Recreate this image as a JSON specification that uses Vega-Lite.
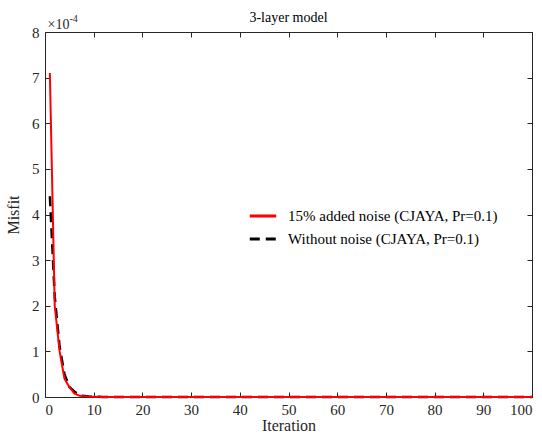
{
  "$schema": "https://vega.github.io/schema/vega-lite/v6.json",
  "width": 487,
  "height": 365,
  "autosize": {"type": "none"},
  "padding": {"left": 45, "top": 32, "right": 10, "bottom": 37},
  "background": "white",
  "title": {"text": "3-layer model", "font": "Liberation Serif", "fontSize": 14, "fontWeight": "normal", "color": "#000000", "offset": -12, "anchor": "middle"},
  "config": {
    "view": {"stroke": null},
    "font": "Liberation Serif",
    "axis": {
      "domainColor": "#262626", "tickColor": "#262626", "labelColor": "#262626", "titleColor": "#262626",
      "labelFont": "Liberation Serif", "titleFont": "Liberation Serif",
      "labelFontSize": 15, "titleFontSize": 16, "titleFontWeight": "normal",
      "tickSize": -5, "grid": false, "domainWidth": 1, "tickWidth": 1
    },
    "legend": {"labelFont": "Liberation Serif", "labelFontSize": 15, "labelColor": "#000000"}
  },
  "data": {"values": [
    {"iteration": 1, "series": "noise", "misfit": 0.00071},
    {"iteration": 2, "series": "noise", "misfit": 0.00020},
    {"iteration": 3, "series": "noise", "misfit": 0.000100},
    {"iteration": 4, "series": "noise", "misfit": 0.000040},
    {"iteration": 5, "series": "noise", "misfit": 0.000022},
    {"iteration": 6, "series": "noise", "misfit": 0.000008},
    {"iteration": 7, "series": "noise", "misfit": 0.000003},
    {"iteration": 8, "series": "noise", "misfit": 0.0000015},
    {"iteration": 9, "series": "noise", "misfit": 0.0000008},
    {"iteration": 10, "series": "noise", "misfit": 0.0000004},
    {"iteration": 12, "series": "noise", "misfit": 0.0000002},
    {"iteration": 15, "series": "noise", "misfit": 0.0000001},
    {"iteration": 20, "series": "noise", "misfit": 0.0},
    {"iteration": 30, "series": "noise", "misfit": 0.0},
    {"iteration": 40, "series": "noise", "misfit": 0.0},
    {"iteration": 50, "series": "noise", "misfit": 0.0},
    {"iteration": 60, "series": "noise", "misfit": 0.0},
    {"iteration": 70, "series": "noise", "misfit": 0.0},
    {"iteration": 80, "series": "noise", "misfit": 0.0},
    {"iteration": 90, "series": "noise", "misfit": 0.0},
    {"iteration": 100, "series": "noise", "misfit": 0.0},
    {"iteration": 1, "series": "clean", "misfit": 0.00044},
    {"iteration": 2, "series": "clean", "misfit": 0.00022},
    {"iteration": 3, "series": "clean", "misfit": 0.000110},
    {"iteration": 4, "series": "clean", "misfit": 0.000050},
    {"iteration": 5, "series": "clean", "misfit": 0.000022},
    {"iteration": 6, "series": "clean", "misfit": 0.000012},
    {"iteration": 7, "series": "clean", "misfit": 0.000005},
    {"iteration": 8, "series": "clean", "misfit": 0.000002},
    {"iteration": 9, "series": "clean", "misfit": 0.000001},
    {"iteration": 10, "series": "clean", "misfit": 0.0000005},
    {"iteration": 12, "series": "clean", "misfit": 0.0000002},
    {"iteration": 15, "series": "clean", "misfit": 0.0000001},
    {"iteration": 20, "series": "clean", "misfit": 0.0},
    {"iteration": 30, "series": "clean", "misfit": 0.0},
    {"iteration": 40, "series": "clean", "misfit": 0.0},
    {"iteration": 50, "series": "clean", "misfit": 0.0},
    {"iteration": 60, "series": "clean", "misfit": 0.0},
    {"iteration": 70, "series": "clean", "misfit": 0.0},
    {"iteration": 80, "series": "clean", "misfit": 0.0},
    {"iteration": 90, "series": "clean", "misfit": 0.0},
    {"iteration": 100, "series": "clean", "misfit": 0.0}
  ]},
  "resolve": {"axis": {"x": "independent", "y": "independent"}},
  "layer": [
    {
      "transform": [{"filter": "datum.series === 'clean'"}],
      "mark": {"type": "line", "strokeWidth": 2.5, "strokeCap": "butt"},
      "encoding": {
        "x": {"field": "iteration", "type": "quantitative",
              "scale": {"domain": [0, 100], "nice": false},
              "axis": {"orient": "bottom", "title": "Iteration", "values": [0,10,20,30,40,50,60,70,80,90,100], "labelPadding": 10, "titlePadding": 0}},
        "y": {"field": "misfit", "type": "quantitative",
              "scale": {"domain": [0, 0.0008], "nice": false, "zero": true},
              "axis": {"orient": "left", "title": "Misfit", "values": [0,0.0001,0.0002,0.0003,0.0004,0.0005,0.0006,0.0007,0.0008],
                       "labelExpr": "format(datum.value*10000, 'd')", "labelPadding": 11, "titlePadding": 10}},
        "color": {"field": "series", "type": "nominal",
                  "scale": {"domain": ["noise", "clean"], "range": ["#ff0000", "#000000"]},
                  "legend": {"orient": "none", "legendX": 203, "legendY": 169, "title": null,
                             "symbolType": "stroke", "symbolSize": 700, "symbolStrokeWidth": 3,
                             "rowPadding": -2, "labelOffset": 10, "labelLimit": 0,
                             "labelExpr": "datum.value === 'noise' ? '15% added noise (CJAYA, Pr=0.1)' : '\u00a0Without noise (CJAYA, Pr=0.1)'"}},
        "strokeDash": {"field": "series", "type": "nominal",
                       "scale": {"domain": ["noise", "clean"], "range": [[1, 0], [10, 6]]},
                       "legend": null}
      }
    },
    {
      "transform": [{"filter": "datum.series === 'noise'"}],
      "mark": {"type": "line", "strokeWidth": 2},
      "encoding": {
        "x": {"field": "iteration", "type": "quantitative",
              "scale": {"domain": [0, 100], "nice": false},
              "axis": {"orient": "top", "labels": false, "values": [0,10,20,30,40,50,60,70,80,90,100],
                       "title": "-4", "titleFontSize": 10, "titleAnchor": "start", "titleAlign": "left",
                       "titleBaseline": "alphabetic", "titleX": 24, "titleY": -11}},
        "y": {"field": "misfit", "type": "quantitative",
              "scale": {"domain": [0, 0.0008], "nice": false, "zero": true},
              "axis": {"orient": "right", "labels": false, "values": [0,0.0001,0.0002,0.0003,0.0004,0.0005,0.0006,0.0007,0.0008],
                       "title": "\u00d710", "titleAngle": 0, "titleAlign": "left", "titleBaseline": "alphabetic",
                       "titleX": -485, "titleY": -4, "titleFontSize": 14}},
        "color": {"field": "series", "type": "nominal",
                  "scale": {"domain": ["noise", "clean"], "range": ["#ff0000", "#000000"]}},
        "strokeDash": {"field": "series", "type": "nominal",
                       "scale": {"domain": ["noise", "clean"], "range": [[1, 0], [10, 6]]},
                       "legend": null}
      }
    }
  ]
}
